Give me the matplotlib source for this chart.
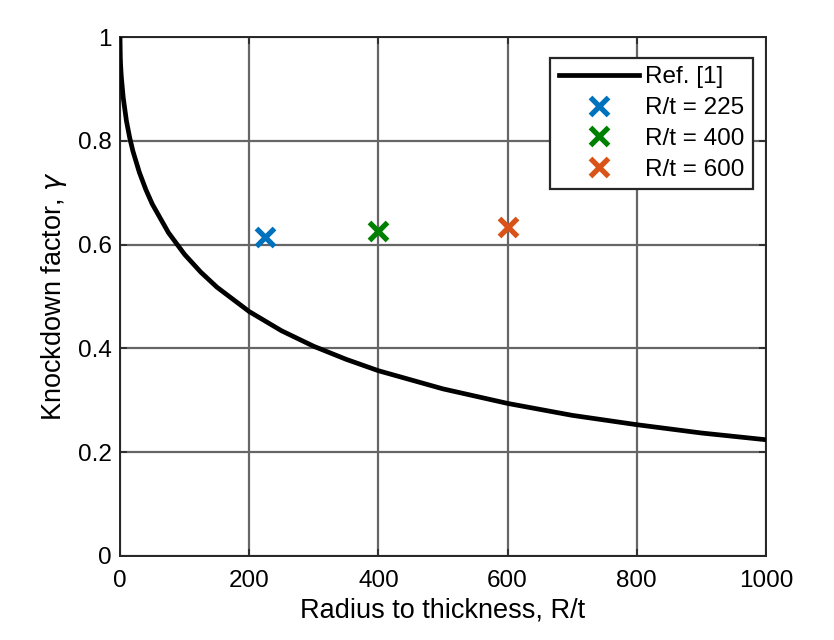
import matplotlib
matplotlib.use("Agg")
import matplotlib.pyplot as plt

plt.rcParams['font.family'] = ['Liberation Sans', 'DejaVu Sans']

# Reference curve
ref_rt = [0, 0.5, 1, 2, 5, 10, 15, 20, 30, 40, 50, 75, 100, 125, 150, 200, 250,
          300, 350, 400, 500, 600, 700, 800, 900, 1000]
ref_gamma = [1.0, 0.961, 0.945, 0.924, 0.883, 0.838, 0.806, 0.780, 0.739, 0.706,
             0.678, 0.623, 0.581, 0.547, 0.518, 0.471, 0.434, 0.404, 0.379, 0.357,
             0.322, 0.294, 0.271, 0.253, 0.237, 0.224]

# Test points
test_rt = [225, 400, 600]
test_gamma = [0.615, 0.627, 0.633]
test_labels = ['R/t = 225', 'R/t = 400', 'R/t = 600']
test_colors = ['#0072BD', '#008000', '#D95319']

fig = plt.figure(figsize=(8.34, 6.40), dpi=100)
ax = fig.add_axes([120/834, 1 - 556/640, (766-120)/834, (556-37)/640])

ax.plot(ref_rt, ref_gamma, color='black', lw=3.4, label='Ref. [1]', zorder=3)
for x, y, lab, c in zip(test_rt, test_gamma, test_labels, test_colors):
    ax.plot([x], [y], ls='none', marker='x', ms=13, mew=3.8, color=c, label=lab, zorder=4)

ax.set_xlim(0, 1000)
ax.set_ylim(0, 1)
ax.set_xticks([0, 200, 400, 600, 800, 1000])
ax.set_yticks([0, 0.2, 0.4, 0.6, 0.8, 1])
ax.set_yticklabels(['0', '0.2', '0.4', '0.6', '0.8', '1'])
ax.grid(True, color='#666666', lw=1.6, alpha=1)
ax.set_axisbelow(True)
for s in ax.spines.values():
    s.set_color('#262626')
    s.set_linewidth(1.4)
ax.tick_params(direction='in', length=5, width=1.2, colors='#262626', labelsize=17.5,
               top=True, right=True)
ax.tick_params(axis='x', pad=10)
ax.tick_params(axis='y', pad=6)
for t in ax.get_xticklabels() + ax.get_yticklabels():
    t.set_color('black')

ax.set_xlabel('Radius to thickness, R/t', fontsize=19.5, labelpad=4)
ax.set_ylabel(r'Knockdown factor, $\gamma$', fontsize=19.5, labelpad=6)

leg = ax.legend(loc='upper right', bbox_to_anchor=(0.98, 0.96), fontsize=17.5,
                frameon=True, fancybox=False, edgecolor='#262626', framealpha=1,
                borderpad=0.35, labelspacing=0.36, handlelength=3.3, handletextpad=0.25,
                borderaxespad=0)
leg.get_frame().set_linewidth(1.6)

fig.savefig('out.png', dpi=100, facecolor='white')
